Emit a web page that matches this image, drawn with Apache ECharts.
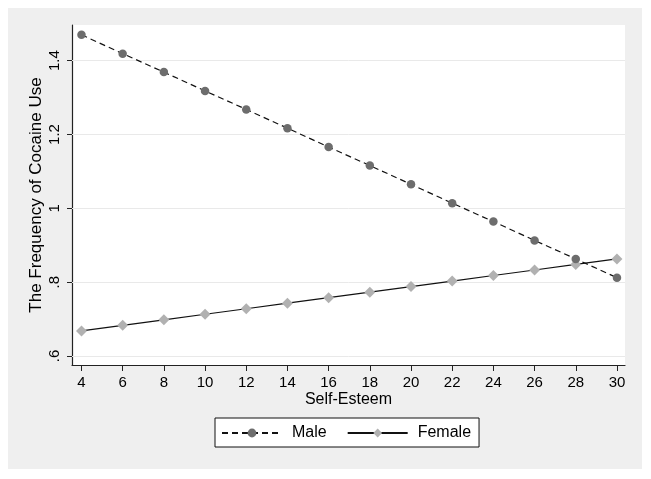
<!DOCTYPE html>
<html>
<head>
<meta charset="utf-8">
<script src="https://cdn.jsdelivr.net/npm/echarts@6/dist/echarts.min.js"></script>
<style>
html,body{margin:0;padding:0;background:#fff;}
#wrap{position:relative;width:651px;height:479px;background:#fff;}
#bg{position:absolute;left:8px;top:8px;width:634px;height:461px;background:#efefef;}
#chart{position:absolute;left:0;top:0;width:651px;height:479px;}
</style>
</head>
<body>
<div id="wrap"><div id="bg"></div><div id="chart"></div></div>
<script>
const xValues = [4, 6, 8, 10, 12, 14, 16, 18, 20, 22, 24, 26, 28, 30];
const maleValues = [1.470, 1.419, 1.369, 1.318, 1.268, 1.217, 1.166, 1.116, 1.065, 1.014, 0.964, 0.913, 0.863, 0.812];
const femaleValues = [0.668, 0.683, 0.698, 0.713, 0.728, 0.743, 0.758, 0.773, 0.788, 0.803, 0.818, 0.833, 0.848, 0.863];
const xTicks = [4, 6, 8, 10, 12, 14, 16, 18, 20, 22, 24, 26, 28, 30];
const yTicks = [0.6, 0.8, 1.0, 1.2, 1.4];
const yTickLabels = ['.6', '.8', '1', '1.2', '1.4'];

const font = "'Liberation Sans', Arial, sans-serif";
const chart = echarts.init(document.getElementById('chart'), null, {renderer: 'canvas'});

function pairs(ys) { return xValues.map((x, i) => [x, ys[i]]); }

chart.setOption({
  backgroundColor: 'transparent',
  animation: false,
  textStyle: {fontFamily: font},
  grid: {left: 72, top: 25, right: 26, bottom: 114, show: true, backgroundColor: '#ffffff', borderWidth: 0},
  xAxis: {
    type: 'value', min: 3.54, max: 30.39,
    name: 'Self-Esteem', nameLocation: 'middle', nameGap: 27, nameMoveOverlap: false,
    nameTextStyle: {fontSize: 16, color: '#000', fontFamily: font},
    axisLine: {show: true, onZero: false, lineStyle: {color: '#222', width: 1.2}},
    axisTick: {show: true, length: 6, customValues: xTicks, lineStyle: {color: '#222'}},
    axisLabel: {customValues: xTicks, fontSize: 15, color: '#000', margin: 10, fontFamily: font},
    splitLine: {show: false}
  },
  yAxis: {
    type: 'value', min: 0.5756, max: 1.4966,
    name: 'The Frequency of Cocaine Use', nameLocation: 'middle', nameGap: 27, nameMoveOverlap: false,
    nameTextStyle: {fontSize: 17, color: '#000', fontFamily: font},
    axisLine: {show: true, onZero: false, lineStyle: {color: '#222', width: 1.2}},
    axisTick: {show: true, length: 5, customValues: yTicks, lineStyle: {color: '#222'}},
    axisLabel: {customValues: yTicks, rotate: 90, fontSize: 15, color: '#000', margin: 10, fontFamily: font,
      formatter: function (v) { const i = yTicks.findIndex(t => Math.abs(t - v) < 1e-6); return i >= 0 ? yTickLabels[i] : ''; }},
    splitLine: {show: false}
  },
  legend: {
    left: 215, top: 418,
    backgroundColor: '#fff', borderColor: '#111', borderWidth: 1,
    padding: [7, 8, 6, 6],
    itemWidth: 60, itemHeight: 11, itemGap: 20,
    textStyle: {fontSize: 16, color: '#000', fontFamily: font, padding: [0, 0, 0, 5]},
    data: ['Male', 'Female']
  },
  series: [
    {
      name: 'Male', type: 'line', data: pairs(maleValues),
      symbol: 'circle', symbolSize: 8.5,
      itemStyle: {color: '#6d6d6d'},
      lineStyle: {color: '#111', width: 1.2, type: [6, 4]},
      z: 3,
      markLine: {
        silent: true, symbol: 'none', label: {show: false},
        lineStyle: {color: '#e9e9e9', width: 1, type: 'solid'},
        data: yTicks.map(v => ({yAxis: v})),
        z: 1
      }
    },
    {
      name: 'Female', type: 'line', data: pairs(femaleValues),
      symbol: 'diamond', symbolSize: 11,
      itemStyle: {color: '#b1b1b1'},
      lineStyle: {color: '#111', width: 1.2, type: 'solid'},
      z: 2
    }
  ]
});
</script>
</body>
</html>
